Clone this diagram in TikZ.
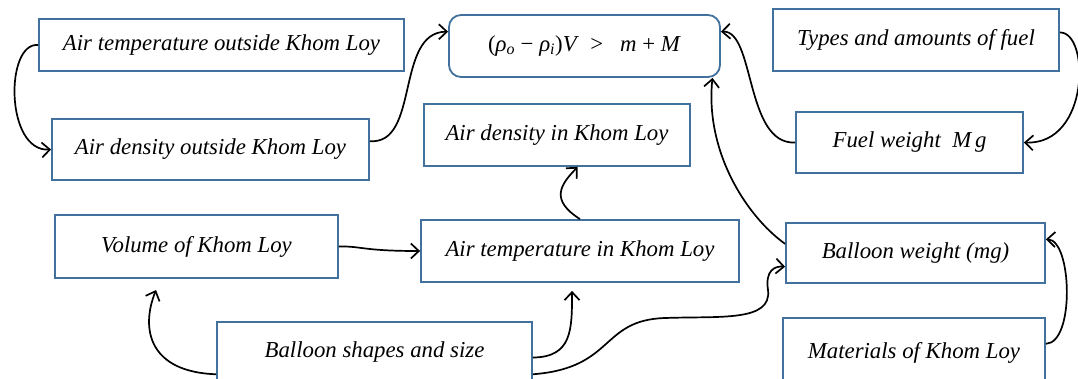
\documentclass[tikz,border=0pt]{standalone}
\usepackage{fontspec}
\setmainfont{Liberation Serif}
\usetikzlibrary{arrows.meta}
\definecolor{boxblue}{RGB}{65,113,156}

\begin{document}
\begin{tikzpicture}[x=1pt,y=-1pt,
  every node/.style={draw=boxblue, line width=1.8pt, fill=white, inner sep=2pt,
    font=\fontsize{22.8}{27}\selectfont\itshape},
  link/.style={line width=1.7pt, -{Straight Barb[length=8pt,width=15pt]}}]
\useasboundingbox (0,0) rectangle (1078,378);
% Boxes
\node[minimum width=365pt, minimum height=52pt] (ato) at (221.5,45) {Air temperature outside Khom Loy};
\node[minimum width=317pt, minimum height=61pt] (ado) at (210.5,149.5) {Air density outside Khom Loy};
\node[rounded corners=12pt, minimum width=271pt, minimum height=62pt] (eq) at (584.5,46)
  {\upshape(\textit{ρ}\textsubscript{\textit{o}} − \textit{ρ}\textsubscript{\textit{i}})\textit{V} \ > \ \ \textit{m} + \textit{M}};
\node[minimum width=266pt, minimum height=62pt] (adi) at (557,135) {Air density in Khom Loy};
\node[minimum width=286pt, minimum height=62pt] (taf) at (916,40) {Types and amounts of fuel};
\node[minimum width=227pt, minimum height=61pt] (fw) at (909.5,142.5) {Fuel weight \ M\,g};
\node[minimum width=283pt, minimum height=63pt] (vol) at (196.5,246.5) {Volume of Khom Loy};
\node[minimum width=318pt, minimum height=62pt] (ati) at (580,251) {Air temperature in Khom Loy};
\node[minimum width=259pt, minimum height=60pt] (bw) at (915.5,253) {Balloon weight (mg)};
\node[minimum width=315pt, minimum height=60pt] (bss) at (374.5,352) {Balloon shapes and size};
\node[minimum width=262pt, minimum height=70pt] (mat) at (914,353) {Materials of Khom Loy};

% Links
\draw[link] (ato.west) .. controls (5,42) and (5,152) .. (ado.west);
\draw[link] (ado.3) .. controls (420,145) and (395,32) .. (eq.174);
\draw[link] (taf.3) .. controls (1090,32) and (1090,145) .. (fw.east);
\draw[link] (fw.west) .. controls (745,145) and (755,30) .. (eq.6);
\draw[link] (bw.176) .. controls (745,215) and (705,150) .. (eq.-14);
\draw[link] (ati.north) .. controls (550,200) and (560,185) .. (adi.-57);
\draw[link] (vol.east) .. controls (362,246) and (362,251) .. (ati.west);
\draw[link, shorten >=12pt] (bss.188) .. controls (150,372) and (140,330) .. (vol.-138);
\draw[link, shorten >=8pt] (bss.-2) .. controls (572,357) and (572,330) .. (ati.-104);
\draw[link] (bss.-8) .. controls (615,368) and (600,320) .. (665,318)
  .. controls (720,316) and (772,322) .. (768,290)
  .. controls (765,270) and (775,266) .. (bw.186);
\draw[link] (mat.4) .. controls (1075,343) and (1072,240) .. (bw.6);
\end{tikzpicture}
\end{document}
